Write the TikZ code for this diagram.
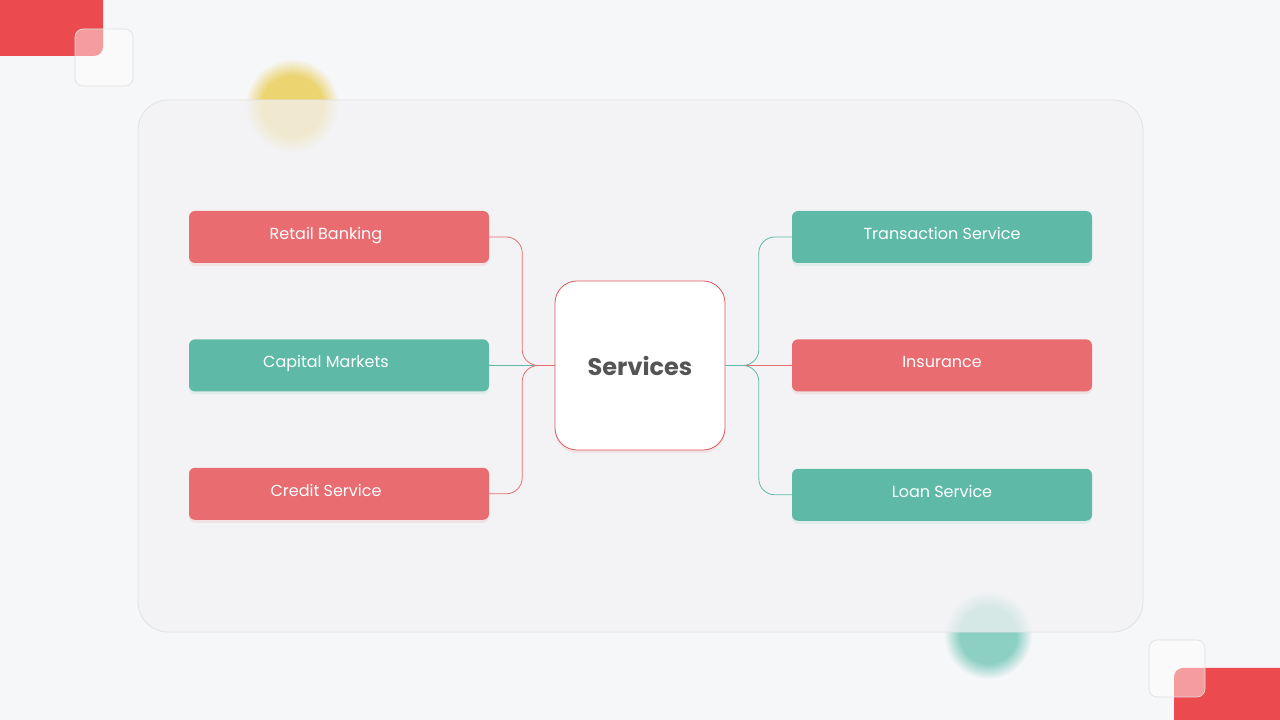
\documentclass[tikz,border=0pt]{standalone}
\usepackage{fontspec}
\setmainfont{Poppins}
\usepackage{tikz}
\usetikzlibrary{positioning, shadows, fadings, calc}
\definecolor{pagebg}{RGB}{246,247,249}
\definecolor{panelbg}{RGB}{242,242,244}
\definecolor{paneledge}{RGB}{226,226,230}
\definecolor{svcred}{RGB}{233,108,113}
\definecolor{svcteal}{RGB}{94,186,167}
\definecolor{cornerred}{RGB}{235,75,79}
\definecolor{blobyellow}{RGB}{236,212,112}
\definecolor{blobteal}{RGB}{140,208,194}
\definecolor{hubedge}{RGB}{224,87,92}
\definecolor{hubtext}{RGB}{85,85,85}
\pgfdeclareradialshading{softdotshade}{\pgfpointorigin}{color(0bp)=(pgftransparent!0); color(16bp)=(pgftransparent!0); color(25bp)=(pgftransparent!100); color(50bp)=(pgftransparent!100)}
\pgfdeclarefading{softdot}{\pgfuseshading{softdotshade}}
\tikzset{
    svcbox/.style={rectangle, fill=#1, rounded corners=6pt, minimum width=300pt, minimum height=52pt, text=white, font=\fontsize{16}{19}\selectfont, inner sep=0pt, text height=12pt, text depth=7pt, drop shadow={fill=#1, opacity=0.12, shadow xshift=0pt, shadow yshift=-3pt}},
    leftbox/.style={svcbox=#1, execute at begin node=\hspace{-26pt}},
    svchub/.style={rectangle, draw=hubedge, fill=white, rounded corners=22pt, minimum width=170pt, minimum height=169pt, line width=0.8pt, font=\fontsize{24}{28}\selectfont\bfseries, text=hubtext, drop shadow={fill=hubedge, opacity=0.1, shadow xshift=0pt, shadow yshift=-3pt}},
    svclink/.style={draw=#1, line width=0.8pt, rounded corners=16pt},
    glasstile/.style={fill=white, fill opacity=0.45, draw=black!12, line width=0.6pt, rounded corners=8pt},
    blob/.style={fill=#1, path fading=softdot}
}

\begin{document}
\begin{tikzpicture}[x=1pt, y=1pt, node distance=76pt]

% page and decorations
\fill[pagebg] (0,0) rectangle (1280,720);
\useasboundingbox (0,0) rectangle (1280,720);
\clip (0,0) rectangle (1280,720);
\fill[cornerred, rounded corners=9pt] (-20,664) rectangle (103,740);
\draw[glasstile] (75,634) rectangle (133,691);
\fill[cornerred, rounded corners=9pt] (1174,-20) rectangle (1300,52);
\draw[glasstile] (1149,23) rectangle (1205,80);
\fill[blob=blobyellow] (292,614) circle (47);
\fill[blob=blobteal] (988,85) circle (44);

% panel
\filldraw[fill=panelbg, fill opacity=0.72, draw=paneledge, line width=0.8pt, rounded corners=30pt] (138,88) rectangle (1143,620);

% nodes
\node[svchub] (hub) at (640,354.5) {Services};

\node[leftbox=svcred] (rb) at (339,483) {Retail Banking};
\node[leftbox=svcteal, below=of rb] (cm) {Capital Markets};
\node[leftbox=svcred, below=of cm] (cs) {Credit Service};

\node[svcbox=svcteal] (ts) at (942,483) {Transaction Service};
\node[svcbox=svcred, below=of ts] (in) {Insurance};
\node[svcbox=svcteal, below=77pt of in] (ls) {Loan Service};

% links
\draw[svclink=svcred] (rb.east) -- ++(33,0) |- (hub.west);
\draw[svclink=svcteal] (cm.east) -- (hub.west);
\draw[svclink=svcred] (cs.east) -- ++(33,0) |- (hub.west);
\draw[svclink=svcteal] (ts.west) -- ++(-33,0) |- (hub.east);
\draw[svclink=svcred] (in.west) -- (hub.east);
\draw[svclink=svcteal] (ls.west) -- ++(-33,0) |- (hub.east);

\end{tikzpicture}
\end{document}
